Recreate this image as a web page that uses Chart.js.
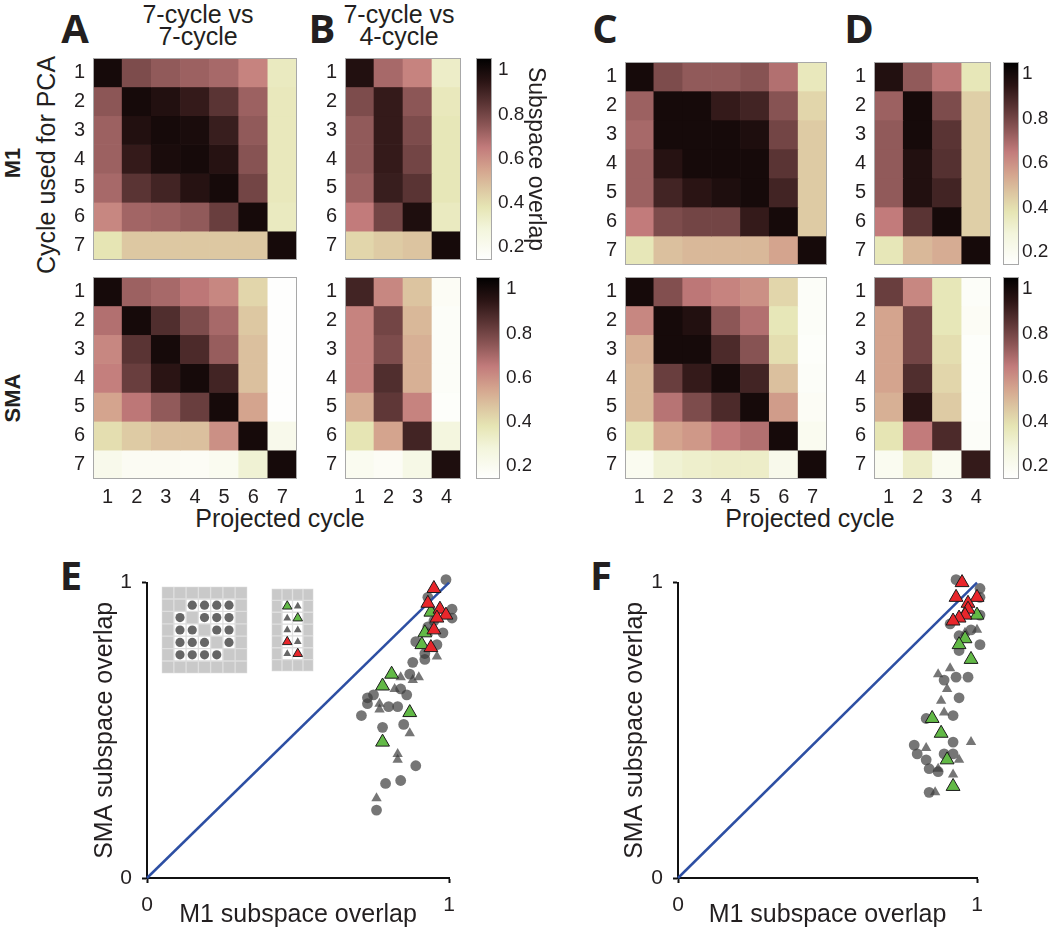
<!DOCTYPE html>
<html>
<head>
<meta charset="utf-8">
<script src="https://cdn.jsdelivr.net/npm/chart.js@4.4.0/dist/chart.umd.min.js"></script>
<style>
  body { margin: 0; width: 1050px; height: 930px; background: #fff; position: relative; overflow: hidden;
         font-family: "Liberation Sans", Arial, sans-serif; color: #231f20; }
  .box { position: absolute; }
  .t { position: absolute; transform: translate(-50%, -50%); white-space: nowrap; text-align: center; }
  .v { position: absolute; transform: translate(-50%, -50%) rotate(-90deg); white-space: nowrap; }
  .letter { font-family: "Open Sans", "DejaVu Sans", sans-serif; font-weight: 700; font-size: 40px; }
  .area { font-weight: 700; font-size: 22px; }
  .lab { font-size: 25px; }
  .head { font-size: 25px; line-height: 22px; }
</style>
</head>
<body>

<div class="t letter" style="left:75px;top:27px">A</div>
<div class="t letter" style="left:322px;top:27px">B</div>
<div class="t letter" style="left:605px;top:27px">C</div>
<div class="t letter" style="left:859px;top:27px">D</div>
<div class="t letter" style="left:71px;top:574px">E</div>
<div class="t letter" style="left:601px;top:574px">F</div>

<div class="t head" style="left:198px;top:25px">7-cycle vs<br>7-cycle</div>
<div class="t head" style="left:399px;top:25px">7-cycle vs<br>4-cycle</div>

<div class="v area" style="left:13px;top:163px">M1</div>
<div class="v area" style="left:13px;top:398px">SMA</div>
<div class="v lab" style="left:46px;top:165px">Cycle used for PCA</div>
<div class="t lab" style="left:280px;top:518px">Projected cycle</div>
<div class="t lab" style="left:810px;top:518px">Projected cycle</div>

<div class="box" style="left:60px;top:58px;width:237px;height:202px"><canvas id="hA1"></canvas></div>
<div class="box" style="left:60px;top:277px;width:237px;height:236px"><canvas id="hA2"></canvas></div>
<div class="box" style="left:312px;top:58px;width:149px;height:202px"><canvas id="hB1"></canvas></div>
<div class="box" style="left:312px;top:277px;width:149px;height:236px"><canvas id="hB2"></canvas></div>
<div class="box" style="left:592px;top:62px;width:235px;height:203px"><canvas id="hC1"></canvas></div>
<div class="box" style="left:592px;top:277px;width:235px;height:236px"><canvas id="hC2"></canvas></div>
<div class="box" style="left:841px;top:62px;width:150px;height:203px"><canvas id="hD1"></canvas></div>
<div class="box" style="left:841px;top:277px;width:150px;height:236px"><canvas id="hD2"></canvas></div>

<div class="box" style="left:476px;top:58px;width:73px;height:202px"><canvas id="cbB1"></canvas></div>
<div class="box" style="left:476px;top:277px;width:55px;height:202px"><canvas id="cbB2"></canvas></div>
<div class="box" style="left:1003px;top:62px;width:47px;height:203px"><canvas id="cbD1"></canvas></div>
<div class="box" style="left:1003px;top:277px;width:47px;height:202px"><canvas id="cbD2"></canvas></div>

<div class="box" style="left:90px;top:560px;width:380px;height:370px"><canvas id="scE"></canvas></div>
<div class="box" style="left:620px;top:560px;width:380px;height:370px"><canvas id="scF"></canvas></div>
<div class="box" style="left:157px;top:582px;width:95px;height:96px"><canvas id="insetPairs"></canvas></div>
<div class="box" style="left:265px;top:582px;width:55px;height:96px"><canvas id="insetTri"></canvas></div>

<script>
// ---- heat map data: rows = cycle used for PCA, columns = projected cycle ----
const rowLabels = ['1', '2', '3', '4', '5', '6', '7'];
const cols7 = ['1', '2', '3', '4', '5', '6', '7'];
const cols4 = ['1', '2', '3', '4'];

const m1SevenA = [
  [1.00, 0.78, 0.74, 0.72, 0.70, 0.63, 0.35],
  [0.75, 1.00, 0.97, 0.93, 0.85, 0.72, 0.36],
  [0.72, 0.97, 1.00, 0.99, 0.92, 0.74, 0.36],
  [0.72, 0.93, 0.99, 1.00, 0.96, 0.76, 0.36],
  [0.70, 0.85, 0.90, 0.96, 1.00, 0.80, 0.36],
  [0.62, 0.71, 0.72, 0.74, 0.82, 1.00, 0.35],
  [0.38, 0.46, 0.46, 0.46, 0.46, 0.46, 1.00]
];
const m1FourB = [
  [0.97, 0.70, 0.63, 0.33],
  [0.78, 0.93, 0.75, 0.36],
  [0.74, 0.93, 0.78, 0.37],
  [0.74, 0.93, 0.80, 0.37],
  [0.72, 0.92, 0.85, 0.37],
  [0.65, 0.80, 0.98, 0.35],
  [0.42, 0.45, 0.47, 1.00]
];
const smaSevenA = [
  [1.00, 0.72, 0.70, 0.66, 0.62, 0.42, 0.15],
  [0.68, 1.00, 0.87, 0.78, 0.70, 0.46, 0.15],
  [0.62, 0.85, 1.00, 0.88, 0.73, 0.48, 0.15],
  [0.64, 0.82, 0.95, 1.00, 0.90, 0.48, 0.15],
  [0.55, 0.66, 0.74, 0.82, 1.00, 0.55, 0.15],
  [0.40, 0.45, 0.48, 0.48, 0.60, 1.00, 0.22],
  [0.22, 0.19, 0.19, 0.18, 0.20, 0.30, 1.00]
];
const smaFourB = [
  [0.90, 0.62, 0.47, 0.18],
  [0.63, 0.80, 0.50, 0.17],
  [0.63, 0.78, 0.52, 0.17],
  [0.63, 0.87, 0.52, 0.17],
  [0.53, 0.84, 0.63, 0.16],
  [0.38, 0.55, 0.90, 0.27],
  [0.20, 0.18, 0.24, 0.98]
];
const m1SevenC = [
  [1.00, 0.78, 0.74, 0.74, 0.76, 0.68, 0.36],
  [0.72, 1.00, 1.00, 0.93, 0.90, 0.76, 0.42],
  [0.70, 1.00, 1.00, 1.00, 0.98, 0.80, 0.45],
  [0.72, 0.96, 1.00, 1.00, 1.00, 0.85, 0.45],
  [0.72, 0.90, 0.95, 0.98, 1.00, 0.90, 0.45],
  [0.65, 0.78, 0.80, 0.80, 0.93, 1.00, 0.45],
  [0.37, 0.48, 0.50, 0.50, 0.50, 0.55, 1.00]
];
const m1FourD = [
  [0.97, 0.74, 0.66, 0.37],
  [0.72, 1.00, 0.78, 0.44],
  [0.74, 1.00, 0.85, 0.44],
  [0.74, 0.97, 0.86, 0.44],
  [0.74, 0.97, 0.90, 0.44],
  [0.65, 0.85, 1.00, 0.44],
  [0.37, 0.50, 0.53, 1.00]
];
const smaSevenC = [
  [1.00, 0.77, 0.66, 0.63, 0.60, 0.42, 0.17],
  [0.62, 1.00, 0.97, 0.75, 0.68, 0.37, 0.17],
  [0.52, 1.00, 1.00, 0.88, 0.76, 0.40, 0.16],
  [0.50, 0.82, 0.93, 1.00, 0.90, 0.48, 0.17],
  [0.50, 0.67, 0.78, 0.88, 1.00, 0.57, 0.18],
  [0.37, 0.55, 0.58, 0.65, 0.68, 1.00, 0.20],
  [0.20, 0.30, 0.32, 0.33, 0.33, 0.22, 1.00]
];
const smaFourD = [
  [0.82, 0.62, 0.37, 0.17],
  [0.55, 0.80, 0.37, 0.18],
  [0.55, 0.80, 0.40, 0.16],
  [0.55, 0.87, 0.42, 0.16],
  [0.52, 0.95, 0.45, 0.16],
  [0.38, 0.65, 0.88, 0.17],
  [0.20, 0.33, 0.20, 0.93]
];

const colourbarTicks = [0.2, 0.4, 0.6, 0.8, 1];
const colourbarLabels = ['0.2', '0.4', '0.6', '0.8', '1'];

// ---- scatter data: x = M1 overlap, y = SMA overlap ----
const eCircles = [
  {x: 0.97, y: 1.06}, {x: 0.99, y: 1.01}, {x: 1.01, y: 0.91}, {x: 1.01, y: 0.88}, {x: 0.93, y: 0.95},
  {x: 0.98, y: 0.83}, {x: 0.89, y: 0.80}, {x: 0.88, y: 0.73}, {x: 0.87, y: 0.69}, {x: 0.92, y: 0.74},
  {x: 0.86, y: 0.62}, {x: 0.84, y: 0.64}, {x: 0.73, y: 0.61}, {x: 0.75, y: 0.62}, {x: 0.71, y: 0.55},
  {x: 0.73, y: 0.59}, {x: 0.83, y: 0.58}, {x: 0.80, y: 0.58}, {x: 0.78, y: 0.51}, {x: 0.85, y: 0.52},
  {x: 0.89, y: 0.38}, {x: 0.79, y: 0.32}, {x: 0.84, y: 0.33}, {x: 0.76, y: 0.23}, {x: 0.95, y: 0.87},
  {x: 0.93, y: 0.85}, {x: 0.96, y: 0.79}, {x: 0.92, y: 0.76}
];
const eTriangles = [
  {x: 0.90, y: 0.68}, {x: 0.88, y: 0.67}, {x: 0.84, y: 0.68}, {x: 0.82, y: 0.64}, {x: 0.77, y: 0.59},
  {x: 0.77, y: 0.57}, {x: 0.87, y: 0.49}, {x: 0.83, y: 0.42}, {x: 0.83, y: 0.40}, {x: 0.76, y: 0.27},
  {x: 0.96, y: 0.75}, {x: 0.93, y: 0.83}, {x: 0.95, y: 0.90}
];
const eGreen = [
  {x: 0.81, y: 0.69}, {x: 0.78, y: 0.65}, {x: 0.87, y: 0.56}, {x: 0.78, y: 0.46},
  {x: 0.91, y: 0.79}, {x: 0.92, y: 0.83}, {x: 0.94, y: 0.90}
];
const eRed = [
  {x: 0.95, y: 0.98}, {x: 0.93, y: 0.93}, {x: 0.97, y: 0.91}, {x: 0.99, y: 0.89},
  {x: 0.96, y: 0.88}, {x: 0.95, y: 0.84}, {x: 0.94, y: 0.78}
];

const fCircles = [
  {x: 1.00, y: 1.06}, {x: 1.01, y: 1.02}, {x: 0.93, y: 1.01}, {x: 1.01, y: 0.98}, {x: 1.01, y: 0.95},
  {x: 1.01, y: 0.89}, {x: 0.91, y: 0.86}, {x: 1.01, y: 0.79}, {x: 0.94, y: 0.77}, {x: 0.97, y: 0.68},
  {x: 0.93, y: 0.68}, {x: 0.89, y: 0.67}, {x: 0.94, y: 0.61}, {x: 0.92, y: 0.55}, {x: 0.83, y: 0.54},
  {x: 0.92, y: 0.46}, {x: 0.79, y: 0.45}, {x: 0.80, y: 0.42}, {x: 0.83, y: 0.40}, {x: 0.89, y: 0.42},
  {x: 0.92, y: 0.42}, {x: 0.84, y: 0.37}, {x: 0.87, y: 0.36}, {x: 0.84, y: 0.29}, {x: 0.94, y: 0.82},
  {x: 0.98, y: 0.84}
];
const fTriangles = [
  {x: 0.91, y: 0.71}, {x: 0.87, y: 0.69}, {x: 0.90, y: 0.64}, {x: 0.88, y: 0.60}, {x: 0.89, y: 0.56},
  {x: 0.98, y: 0.46}, {x: 0.83, y: 0.44}, {x: 0.94, y: 0.40}, {x: 0.87, y: 0.37}, {x: 0.92, y: 0.35},
  {x: 0.86, y: 0.29}, {x: 1.00, y: 0.84}, {x: 0.96, y: 0.83}
];
const fGreen = [
  {x: 1.00, y: 0.89}, {x: 0.96, y: 0.81}, {x: 0.94, y: 0.79}, {x: 0.98, y: 0.74},
  {x: 0.85, y: 0.54}, {x: 0.88, y: 0.49}, {x: 0.90, y: 0.40}, {x: 0.92, y: 0.31}
];
const fRed = [
  {x: 0.95, y: 1.00}, {x: 0.93, y: 0.95}, {x: 1.00, y: 0.95}, {x: 0.97, y: 0.93},
  {x: 0.97, y: 0.91}, {x: 0.96, y: 0.89}, {x: 0.94, y: 0.88}, {x: 0.92, y: 0.87}
];
const unityLine = [{x: 0, y: 0}, {x: 1, y: 1}];
const overlapTicks = [0, 1];

// ---- inset: which cycle pairs enter the scatter, [row, col] ----
const insetCircles = [
  [2, 3], [2, 4], [2, 5], [2, 6],
  [3, 2], [3, 4], [3, 5], [3, 6],
  [4, 2], [4, 3], [4, 5], [4, 6],
  [5, 2], [5, 3], [5, 4], [5, 6],
  [6, 2], [6, 3], [6, 4], [6, 5]
];
const insetGrayTri = [[2, 3], [3, 2], [4, 2], [4, 3], [5, 3], [6, 2]];
const insetGreenTri = [[2, 2], [3, 3]];
const insetRedTri = [[5, 2], [6, 3]];

// ---- colour map ----
const cmin = 0.14, cmax = 1.055;
const cmapStops = [
  [0.14, '#ffffff'], [0.28, '#f3f5dc'], [0.38, '#e6e5b4'], [0.47, '#dcc4a0'], [0.55, '#d4a48e'],
  [0.65, '#c27b7b'], [0.75, '#8c5656'], [0.85, '#5a3434'], [0.95, '#2a1414'], [1.055, '#000000']
];
function hexRgb(h) { return [1, 3, 5].map(i => parseInt(h.substr(i, 2), 16)); }
function overlapColour(v) {
  v = Math.max(cmin, Math.min(cmax, v));
  for (let i = 1; i < cmapStops.length; i++) {
    const [v1, c1] = cmapStops[i];
    if (v <= v1) {
      const [v0, c0] = cmapStops[i - 1];
      const f = (v - v0) / (v1 - v0);
      const a = hexRgb(c0), b = hexRgb(c1);
      return 'rgb(' + a.map((x, k) => Math.round(x + (b[k] - x) * f)).join(',') + ')';
    }
  }
  return '#000';
}

const ink = '#231f20';
const tickFont = {family: '"Liberation Sans", Arial, sans-serif', size: 20};
const titleFont = {family: '"Liberation Sans", Arial, sans-serif', size: 25};

const frame = {
  id: 'frame',
  afterDatasetsDraw(chart) {
    const a = chart.chartArea, c = chart.ctx;
    c.save();
    c.strokeStyle = '#a8a8a8';
    c.lineWidth = 1;
    c.strokeRect(a.left + 0.5, a.top + 0.5, a.width - 1, a.height - 1);
    c.restore();
  }
};

// vertical scales reserve half a label at both ends; the panels here sit flush
function flushY(width) {
  return s => { s.width = width; s.paddingTop = 0; s.paddingBottom = 0; };
}

function heatmap(id, cols, values, showX) {
  new Chart(document.getElementById(id), {
    type: 'bar',
    data: {
      labels: cols,
      datasets: values.map((row, r) => ({
        data: row.map(() => [r + 0.5, r + 1.5]),
        backgroundColor: row.map(overlapColour),
        grouped: false,
        barPercentage: 1,
        categoryPercentage: 1
      }))
    },
    options: {
      animation: false,
      responsive: true,
      maintainAspectRatio: false,
      plugins: {legend: {display: false}, tooltip: {enabled: false}},
      scales: {
        x: {
          display: showX,
          grid: {display: false, drawTicks: false},
          border: {display: false},
          ticks: {font: tickFont, color: ink, padding: 6, autoSkip: false, maxRotation: 0},
          afterFit: s => { s.height = showX ? 34 : 0; }
        },
        y: {
          min: 0.5, max: 7.5, reverse: true,
          grid: {display: false, drawTicks: false},
          border: {display: false},
          afterBuildTicks: s => { s.ticks = rowLabels.map((l, i) => ({value: i + 1})); },
          ticks: {font: tickFont, color: ink, padding: 8, autoSkip: false, callback: v => rowLabels[v - 1]},
          afterFit: flushY(33)
        }
      }
    },
    plugins: [frame]
  });
}

function colourbar(id, withTitle, pad) {
  new Chart(document.getElementById(id), {
    type: 'bar',
    data: {
      labels: [''],
      datasets: [{
        data: [[cmin, cmax]],
        barPercentage: 1,
        categoryPercentage: 1,
        backgroundColor: ctx => {
          const chart = ctx.chart;
          if (!chart.chartArea) return '#fff';
          const ys = chart.scales.y;
          const g = chart.ctx.createLinearGradient(0, ys.getPixelForValue(cmin), 0, ys.getPixelForValue(cmax));
          cmapStops.forEach(([v, c]) => g.addColorStop((v - cmin) / (cmax - cmin), c));
          return g;
        }
      }]
    },
    options: {
      animation: false,
      responsive: true,
      maintainAspectRatio: false,
      plugins: {legend: {display: false}, tooltip: {enabled: false}},
      scales: {
        x: {display: false, afterFit: s => { s.height = 0; }},
        y: {
          position: 'right',
          min: cmin, max: cmax,
          grid: {display: false, drawTicks: false},
          border: {display: false},
          afterBuildTicks: s => { s.ticks = colourbarTicks.map(v => ({value: v})); },
          ticks: {font: {...tickFont, size: 19}, color: ink, padding: pad, autoSkip: false,
                  callback: (v, i) => colourbarLabels[i]},
          title: {display: withTitle, text: 'Subspace overlap', font: {...titleFont, size: 23}, color: ink, padding: 0},
          afterFit: flushY(withTitle ? 57 : 31)
        }
      }
    },
    plugins: [frame]
  });
}

function overlapScatter(id, circles, tris, green, red, padTop, padRight, yWidth) {
  const grey = 'rgba(60,60,60,0.7)';
  const axis = title => ({
    type: 'linear', min: 0, max: 1,
    afterBuildTicks: s => { s.ticks = overlapTicks.map(v => ({value: v})); },
    grid: {drawOnChartArea: false, color: '#111', tickLength: 5, tickWidth: 2},
    border: {color: '#111', width: 2},
    ticks: {font: {...tickFont, size: 21}, color: ink, padding: 10},
    title: {display: true, text: title, font: titleFont, color: ink, padding: 0}
  });
  new Chart(document.getElementById(id), {
    type: 'scatter',
    data: {
      datasets: [
        {data: red, pointStyle: 'triangle', pointRadius: 8, backgroundColor: '#e8262b', borderColor: '#1b1b1b', borderWidth: 1, clip: false},
        {data: green, pointStyle: 'triangle', pointRadius: 8, backgroundColor: '#62b946', borderColor: '#1b1b1b', borderWidth: 1, clip: false},
        {type: 'line', data: unityLine, borderColor: '#2d4fa3', borderWidth: 2.5, pointRadius: 0, clip: false},
        {data: tris, pointStyle: 'triangle', pointRadius: 6, backgroundColor: grey, borderWidth: 0, clip: false},
        {data: circles, pointRadius: 5.4, backgroundColor: grey, borderWidth: 0, clip: false}
      ]
    },
    options: {
      animation: false,
      responsive: true,
      maintainAspectRatio: false,
      layout: {padding: {top: padTop, right: padRight}},
      plugins: {legend: {display: false}, tooltip: {enabled: false}},
      scales: {
        x: {...axis('M1 subspace overlap'), afterFit: s => { s.height = 52; }},
        y: {...axis('SMA subspace overlap'), afterFit: s => { s.width = yWidth; }}
      }
    }
  });
}

function inset(id, cols, circles, greyTri, greenTri, redTri) {
  const used = circles.concat(greyTri, greenTri, redTri).map(p => p.join(','));
  const pts = list => list.map(([r, c]) => ({x: cols[c - 1], y: r}));
  new Chart(document.getElementById(id), {
    type: 'bar',
    data: {
      labels: cols,
      datasets: [
        {type: 'scatter', order: 0, data: pts(circles), pointRadius: 4.6, backgroundColor: '#666', borderWidth: 0},
        {type: 'scatter', order: 0, data: pts(greyTri), pointStyle: 'triangle', pointRadius: 4.5, backgroundColor: '#666', borderWidth: 0},
        {type: 'scatter', order: 0, data: pts(greenTri), pointStyle: 'triangle', pointRadius: 5.5, backgroundColor: '#62b946', borderColor: '#222', borderWidth: 1},
        {type: 'scatter', order: 0, data: pts(redTri), pointStyle: 'triangle', pointRadius: 5.5, backgroundColor: '#e8262b', borderColor: '#222', borderWidth: 1}
      ].concat(rowLabels.map((l, r) => ({
        order: 1,
        data: cols.map(() => [r + 0.5, r + 1.5]),
        backgroundColor: cols.map((c, ci) => used.includes((r + 1) + ',' + (ci + 1)) ? '#ffffff' : '#c9c9c9'),
        borderColor: '#dedede',
        borderWidth: 1,
        borderSkipped: false,
        grouped: false,
        barPercentage: 1,
        categoryPercentage: 1
      })))
    },
    options: {
      animation: false,
      responsive: true,
      maintainAspectRatio: false,
      plugins: {legend: {display: false}, tooltip: {enabled: false}},
      scales: {
        x: {display: false},
        y: {display: false, min: 0.5, max: 7.5, reverse: true}
      }
    }
  });
}

heatmap('hA1', cols7, m1SevenA, false);
heatmap('hA2', cols7, smaSevenA, true);
heatmap('hB1', cols4, m1FourB, false);
heatmap('hB2', cols4, smaFourB, true);
heatmap('hC1', cols7, m1SevenC, false);
heatmap('hC2', cols7, smaSevenC, true);
heatmap('hD1', cols4, m1FourD, false);
heatmap('hD2', cols4, smaFourD, true);

colourbar('cbB1', true, 6);
colourbar('cbB2', false, 6);
colourbar('cbD1', false, 3);
colourbar('cbD2', false, 3);

overlapScatter('scE', eCircles, eTriangles, eGreen, eRed, 18, 21, 57);
overlapScatter('scF', fCircles, fTriangles, fGreen, fRed, 20, 23, 58);

inset('insetPairs', cols7, insetCircles, [], [], []);
inset('insetTri', cols4, [], insetGrayTri, insetGreenTri, insetRedTri);
</script>
</body>
</html>
